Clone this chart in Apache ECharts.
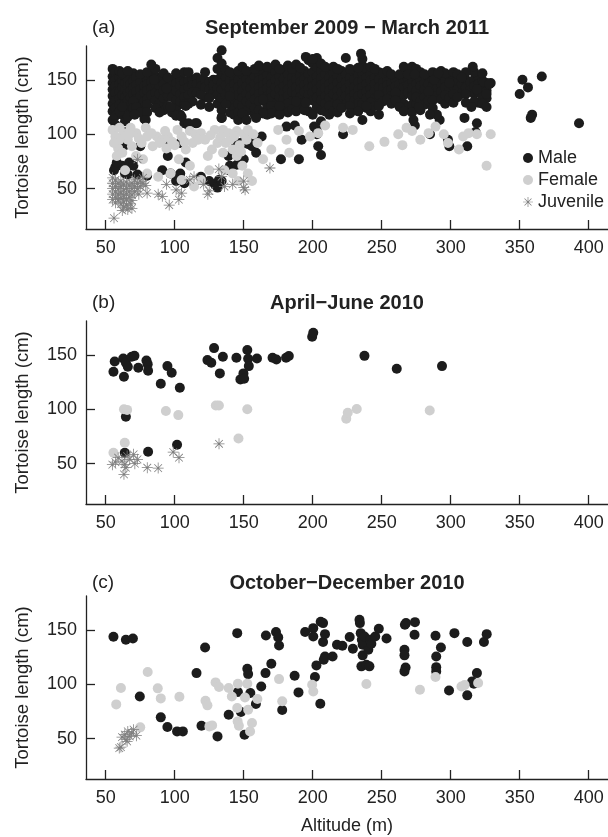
<!DOCTYPE html>
<html><head><meta charset="utf-8">
<script src="https://cdn.jsdelivr.net/npm/echarts@6/dist/echarts.min.js"></script>
<style>html,body{margin:0;padding:0;background:#fff}#c{width:608px;height:837px}</style>
</head><body><div id="c"></div>
<script>
// ---------- tick labels ----------
const xTickValues = [50, 100, 150, 200, 250, 300, 350, 400];
const yTickValues = [50, 100, 150];
const panelLabels = ['(a)', '(b)', '(c)'];
const panelTitles = ['September 2009 \u2212 March 2011', 'April\u2212June 2010', 'October\u2212December 2010'];
const seriesNames = ['Male', 'Female', 'Juvenile'];

// ---------- panel (a) : September 2009 - March 2011 ----------
// dense band of males: [altitude, [lengths...]]
const maleA_band = [
 [55,[160,153,147,141,135,128,121,113]],[57,[157,150,144,138,131,124,117,109]],[60,[152,146,139,133,127]],
 [62,[149,143,136,118]],[64,[153,147,140,134,128,112]],[66,[150,144,138,131,122]],[68,[146,140,134,126]],
 [70,[156,149,143,137]],[72,[152,145,139,132]],[75,[148,141,135,126]],[78,[144,138,130,114]],
 [80,[151,146,140,132,127]],[83,[157,148,142,136]],[86,[153,146,138,131]],[89,[150,144,137,128]],
 [92,[146,140,133,122]],[95,[143,135,126]],[98,[149,141,134,120]],[101,[147,140,131,124]],
 [104,[150,144,137,130,118]],[107,[148,141,134,127,110]],[110,[149,143,136,108]],[113,[150,145]],
 [116,[152,146,110]],[119,[150,144]],[122,[149,143,134]],[125,[148,141]],[128,[150,145,138]],
 [131,[170,160,150,142,136,128]],[134,[177,165,155,147,141,133,122,115]],[137,[152,145,136]],
 [140,[149,142,128,120]],[143,[153,146,139,132,124,118]],[146,[150,143,136,128,120]],[149,[155,147,140,133,126]],
 [152,[151,144,137,130,121]],[155,[157,149,142,135,128]],[158,[153,146,139,132,118]],[161,[156,149,143,137]],
 [164,[158,151,145,139,131,120]],[167,[154,148,142,135,126]],[170,[160,152,146,139,133]],[173,[157,150,143,137,128]],
 [176,[153,147,141,134,122]],[179,[158,151,144,138,132]],[182,[155,148,141,135]],[185,[152,146,139,130]],
 [188,[157,150,143,137]],[191,[154,148,141,134,124]],[194,[158,151,145,139,129]],[197,[168,155,148,142,136,121]],
 [200,[165,157,150,144,138,131,118]],[203,[170,161,153,147,141,134,125,104]],[206,[158,151,145,138,131,122,112]],
 [209,[155,148,142,135,128]],[212,[160,152,146,140,133]],[215,[156,149,143,137,128]],[218,[153,147,140,134]],
 [221,[158,151,144,138,131]],[224,[155,148,142,135,127]],[227,[152,146,139,133]],[230,[157,150,143,137,130,122]],
 [233,[154,148,141,135,128]],[236,[163,156,149,143,137,128]],[239,[160,152,146,139,133,124]],[242,[155,149,142,136]],
 [245,[152,146,140,133]],[248,[157,150,143]],[251,[148,142,136]],[254,[151,145,139]],[257,[147,141,135]],
 [260,[150,144]],[263,[146,140,132]],[266,[155,149,143,136,128]],[269,[158,151,145,138,125]],[272,[156,149,142,135,127]],
 [275,[153,146,140,128]],[278,[150,144,137]],[281,[147,141]],[284,[153,146]],[287,[150,144,138]],
 [290,[149,142,135]],[293,[152,146,139]],[296,[149,143]],[299,[154,141]],[302,[150,144]],[305,[147,141]],
 [308,[153,146,137]],[311,[150,143]],[314,[148,140]],[317,[150,144,137]],[320,[153,146,139,129]],
 [323,[149,142]],[326,[140,133]],[329,[147]]
];
// extra males at the upper and lower edges of the band
const maleA_edge = [
 [60,[158,121]],[62,[156,125]],[66,[158,116]],[70,[130,124]],[72,[125]],[75,[155,120]],[80,[157,120]],
 [86,[160,124]],[89,[120]],[92,[156]],[101,[156,117]],[107,[157]],[110,[157,128]],[113,[138,130]],
 [116,[138]],[119,[136,127]],[122,[157]],[125,[133,125]],[137,[159,128]],[140,[157,135]],[146,[158,113]],
 [149,[162,119]],[152,[158,113]],[158,[160,124]],[161,[163,130,122]],[167,[162,118]],[170,[126]],
 [173,[164,121]],[176,[160]],[179,[125]],[182,[163,128,120]],[185,[160,123]],[188,[164,130,121]],
 [191,[161]],[194,[122]],[206,[165]],[209,[162,121]],[212,[126,118]],[215,[162,121]],[218,[160,127,120]],
 [221,[124]],[227,[160,126,119]],[233,[161,121]],[236,[169]],[242,[162,129,121]],[245,[160,126]],
 [248,[136,118]],[251,[156,130]],[254,[158,132]],[257,[155,128]],[260,[138,131]],[263,[155,125]],
 [266,[162,121]],[272,[162,120]],[275,[160,134]],[278,[157,130,122]],[281,[155,134,127]],[284,[139,131]],
 [287,[157,131,124]],[293,[158,132]],[296,[156,136,128]],[299,[133]],[302,[157,137,129]],[305,[155,134]],
 [311,[137,129]],[317,[157,130]],[323,[156,135,128]],[326,[147,125]]
];
const maleA_other = [
 [393,110],[366,153],[350,137],[352,150],[356,143],[359,118],[358,115],[319,141],[316,162],[326,137],[324,148],
 [311,157],[328,146],[315,125],[319,110],[318,102],[312,89],[299,89],[298,95],[310,115],[292,113],[290,118],
 [285,118],[285,100],[273,113],[274,108],[277,125],[269,155],[274,155],[288,150],[291,156],[308,152],[299,147],
 [195,171],[200,169],[235,174],[224,170],[201,107],[203,100],[206,81],[204,89],[222,100],[236,113],[239,126],
 [248,126],[195,129],[192,95],[190,77],[177,77],[181,107],[187,108],[157,98],[163,98],[159,83],[150,93],
 [153,91],[156,89],[170,119],[176,118],[164,119],[159,115],[164,132],[176,126],
 [134,115],[139,80],[140,71],[139,67],[145,72],[150,77],[146,92],[144,93],[132,58],[129,54],[131,51],[134,57],
 [119,61],[125,57],[108,126],[105,116],[110,110],[115,110],[104,92],[108,74],[104,64],[107,55],[101,57],[103,61],
 [63,95],[64,90],[65,102],[56,67],[62,71],[64,64],[66,63],[67,74],[70,71],[75,89],[73,63],[71,118],[79,113],
 [83,164],[85,150],[95,152],[94,142],[97,125],[95,92],[95,80],[91,67],[97,64],[80,62],[57,70],[58,74]
];
const femaleA = [
 [55,104],[57,98],[59,87],[58,80],[63,101],[66,95],[62,83],[69,89],[72,80],[79,106],[80,98],[84,89],[87,98],
 [91,95],[95,98],[94,87],[100,90],[105,98],[111,103],[115,100],[119,101],[108,86],[103,77],[111,71],[124,80],
 [129,104],[135,104],[139,101],[145,103],[150,100],[153,104],[131,92],[127,86],[135,83],[142,86],[145,80],
 [149,71],[153,64],[156,57],[142,64],[146,57],[136,67],[125,67],[119,58],[114,52],[105,58],[97,64],[88,61],
 [80,64],[77,77],[72,101],[64,67],[60,95],[68,106],[76,92],[98,93],[122,95],[133,97],[140,95],[147,90],
 [56,92],[60,106],[67,100],[74,96],[83,101],[89,92],[93,103],[102,104],[107,93],[113,92],[117,95],[126,99],
 [137,92],[143,98],[148,84],[152,95],[157,100],[160,92],
 [164,77],[170,86],[175,104],[181,95],[183,83],[190,103],[198,98],[209,108],[204,101],[222,106],[229,104],
 [241,89],[252,93],[265,90],[262,100],[268,106],[278,95],[284,101],[289,107],[295,100],[298,92],[306,86],
 [309,98],[313,101],[319,100],[329,100],[326,71],[272,103]
];
const juvenileA = [
 [55,60],[55,55],[55,50],[55,45],[55,40],[57,58],[57,52],[57,47],[57,42],[57,37],[59,55],[59,50],[59,45],[59,40],
 [61,57],[61,52],[61,46],[61,41],[61,36],[63,54],[63,49],[63,44],[63,38],[65,56],[65,50],[65,45],[65,40],[65,35],
 [67,53],[67,47],[67,42],[69,55],[69,50],[69,44],[69,39],[71,58],[71,52],[71,47],[73,55],[73,50],[75,57],[75,52],
 [77,55],[77,60],[79,53],[74,45],[68,36],[63,33],
 [56,23],[62,30],[66,31],[69,32],[73,77],[80,46],[88,45],[91,43],[94,54],[96,35],[103,40],[105,46],[114,61],
 [121,54],[124,45],[125,48],[132,68],[134,61],[136,52],[142,54],[150,57],[150,51],[151,49],[169,69],[111,58],[101,49]
];

// ---------- panel (b) : April-June 2010 ----------
const maleB = [
 [55.6,134.4],[56.5,143.9],[62.7,146.6],[63.2,129.8],[64.6,142.7],[66,139],[68.8,148.2],[70.8,149],[73.6,138],
 [79.5,144.8],[80.4,141.4],[80.7,135.3],[89.9,123.4],[94.7,139.6],[97.8,133.5],[103.7,119.7],[64.6,93.1],
 [63.8,60.1],[80.7,61],[101.7,67.4],[123.7,145.1],[126.5,142.7],[128.5,156.1],[132.7,132.9],[134.9,148.2],
 [144.7,147.2],[147.6,127.4],[149.8,132.9],[150.3,128],[152.6,154.3],[153.2,146.3],[153.7,139.6],[159.6,146.6],
 [170.9,147.2],[173.7,145.7],[180.7,147.2],[182.7,148.8],[199.6,166.5],[200.4,170.2],[237.5,149],[260.9,137.2],
 [293.7,139.6]
];
const femaleB = [
 [55.6,60.1],[63.2,100],[65.5,99.4],[63.8,69.3],[93.6,98.3],[102.6,94.6],[129.8,103.5],[132,103.5],[152.6,100],
 [146.2,73.2],[224.3,91.3],[225.4,96.8],[231.9,100.2],[284.8,98.9]
];
const juvenileB = [
 [54.8,49.1],[57,51.5],[59,55.5],[61.8,52.4],[63.2,40.2],[63.8,49.4],[65.5,57],[67.4,54],[70.2,58.6],[71.1,50],
 [73,54],[80.1,46.3],[88,46],[98.9,60.7],[103.1,55.5],[132.1,68.3],[64.6,46.3]
];

// ---------- panel (c) : October-December 2010 ----------
const maleC = [
 [55.6,143.6],[64.6,140.8],[69.7,142],[74.7,88.8],[89.9,69.6],[94.7,60.7],[101.7,56.7],[105.9,56.7],[115.8,110.2],
 [119.4,61.9],[122,133.8],[131,52.1],[139.1,72],[145.3,146.9],[145.8,92.8],[148,74.5],[150.6,53.7],[152.6,114.2],
 [153.2,109.3],[154.8,91.9],[158.8,81.8],[162.7,98],[166.1,144.8],[165.8,110.2],[170,118.8],[173.4,147.9],
 [175,143],[175.6,135.6],[177.9,76.3],[186.9,107.8],[189.7,92.5],[194.5,147.9],[200.4,151.5],[200.4,143.9],
 [201.6,106.6],[202.7,117.3],[205.5,82.1],[205.8,157.3],[207.5,156.1],[207.5,138.7],[208.9,146],[208.9,125.5],
 [208,122.5],[214.4,125.5],[217.6,136.2],[221.5,135.3],[226.8,143.3],[229.1,132.6],[233.9,159.2],[234.2,156.1],
 [234.8,146.9],[235.6,140.8],[236.2,136.2],[236.2,126.5],[235.3,116.4],[237.5,143.9],[238.9,117.9],[240.3,131.7],
 [241.1,116.4],[241.7,140.8],[242.5,137.2],[245.3,143.9],[247.9,150.9],[253.5,142],[266.8,154.6],[267.6,156.1],
 [266.5,131.7],[266.5,126.5],[267.3,115.4],[266.5,111.8],[274.1,157],[273.8,145.4],[289,144.5],[289.5,125.5],
 [289.5,115.7],[289.5,111.8],[292.9,133.8],[298.8,94.3],[302.7,146.9],[312,138.7],[312,89.8],[315.6,102.6],
 [316.8,100.5],[319,110.2],[324.1,138.7],[326.1,146]
];
const femaleC = [
 [57.6,81.5],[61,96.5],[80.4,111.2],[87.7,96.2],[89.9,87],[103.4,88.5],[75,60.4],[122.3,84.9],[123.7,80.6],
 [125.1,61.3],[127.1,62.2],[129.6,101.7],[132.1,97.4],[139.1,96.5],[141.4,88.8],[145.8,100.5],[145.3,78.1],
 [145.6,65.9],[146.5,61.9],[150.9,87.9],[152.6,100.5],[153.2,76.6],[154.6,56.7],[156,64.4],[159.9,86.4],
 [175.6,104.7],[177.9,84.3],[199.6,99.5],[200.4,93.4],[238.9,100.2],[277.7,95],[289,106.6],[307.8,98],
 [310.1,99.2],[319.9,101.1]
];
const juvenileC = [
 [59.8,41.4],[61,42.3],[61.8,51.5],[63.8,53.7],[64.6,49.1],[66,56.7],[67.4,52.1],[68.8,55.2],[70.2,58.3],
 [72.2,52.8],[65.5,47.6]
];

// ---------- build ----------
const FONT = '"Liberation Sans", Arial, Helvetica, sans-serif';
const STAR = 'path://M0 9.3L20 9.3L20 10.7L0 10.7Z M9.3 0L10.7 0L10.7 20L9.3 20Z M2.5 3.5L3.5 2.5L17.5 16.5L16.5 17.5Z M16.5 2.5L17.5 3.5L3.5 17.5L2.5 16.5Z';
const COLORS = ['#1c1c1c', '#cfcfcf', '#7f7f7f'];

const expandBand = band => band.flatMap(([x, ys]) => ys.map(y => [x, y]));
const panels = [
  [expandBand(maleA_band).concat(expandBand(maleA_edge), maleA_other), femaleA, juvenileA],
  [maleB, femaleB, juvenileB],
  [maleC, femaleC, juvenileC]
];
const tops = [46, 321, 596];
const GH = 183;
const axisColor = '#222';

const grids = [], xAxes = [], yAxes = [], series = [], titles = [];
panels.forEach((p, i) => {
  grids.push({left: 86, width: 522, top: tops[i], height: GH});
  xAxes.push({
    gridIndex: i, type: 'value', min: 35.7, max: 414,
    axisLine: {show: true, onZero: false, lineStyle: {color: axisColor, width: 1.3}},
    axisTick: {show: true, inside: true, length: 9, customValues: xTickValues, lineStyle: {color: axisColor, width: 1.3}},
    axisLabel: {customValues: xTickValues, fontSize: 18, color: axisColor, margin: 10, fontFamily: FONT},
    splitLine: {show: false},
    name: i === 2 ? 'Altitude (m)' : '', nameLocation: 'middle', nameGap: 38,
    nameTextStyle: {fontSize: 18, color: axisColor, fontFamily: FONT}
  });
  yAxes.push({
    gridIndex: i, type: 'value', min: 13, max: 181,
    axisLine: {show: true, onZero: false, lineStyle: {color: axisColor, width: 1.3}},
    axisTick: {show: true, inside: true, length: 9, customValues: yTickValues, lineStyle: {color: axisColor, width: 1.3}},
    axisLabel: {customValues: yTickValues, fontSize: 18, color: axisColor, margin: 9, fontFamily: FONT},
    splitLine: {show: false},
    name: 'Tortoise length (cm)', nameLocation: 'middle', nameGap: 54,
    nameTextStyle: {fontSize: 18.5, color: axisColor, fontFamily: FONT}
  });
  p.forEach((data, k) => {
    series.push({
      type: 'scatter', name: seriesNames[k], xAxisIndex: i, yAxisIndex: i, data: data,
      symbol: k === 2 ? STAR : 'circle', symbolSize: k === 2 ? 11 : 10,
      itemStyle: {color: COLORS[k], opacity: 1}, emphasis: {disabled: true}, z: 2 + k
    });
  });
  const ty = [18, 293, 573][i];
  titles.push({text: panelLabels[i], left: 92, top: ty, padding: 0,
    textStyle: {fontSize: 19, fontWeight: 'normal', color: axisColor, fontFamily: FONT}});
  titles.push({text: panelTitles[i], left: 347, textAlign: 'center', top: ty, padding: 0,
    textStyle: {fontSize: 20, fontWeight: 'bold', color: axisColor, fontFamily: FONT}});
});

const chart = echarts.init(document.getElementById('c'), null, {renderer: 'canvas'});
chart.setOption({
  animation: false,
  backgroundColor: '#fff',
  title: titles,
  grid: grids, xAxis: xAxes, yAxis: yAxes, series: series,
  legend: {
    orient: 'vertical', left: 523, top: 149, itemWidth: 10, itemHeight: 10, itemGap: 4, padding: 0,
    selectedMode: false,
    textStyle: {fontSize: 18, color: axisColor, fontFamily: FONT, lineHeight: 18},
    data: [
      {name: 'Male', icon: 'circle', itemStyle: {color: COLORS[0]}},
      {name: 'Female', icon: 'circle', itemStyle: {color: COLORS[1]}},
      {name: 'Juvenile', icon: STAR, itemStyle: {color: COLORS[2]}}
    ]
  }
});
</script></body></html>
